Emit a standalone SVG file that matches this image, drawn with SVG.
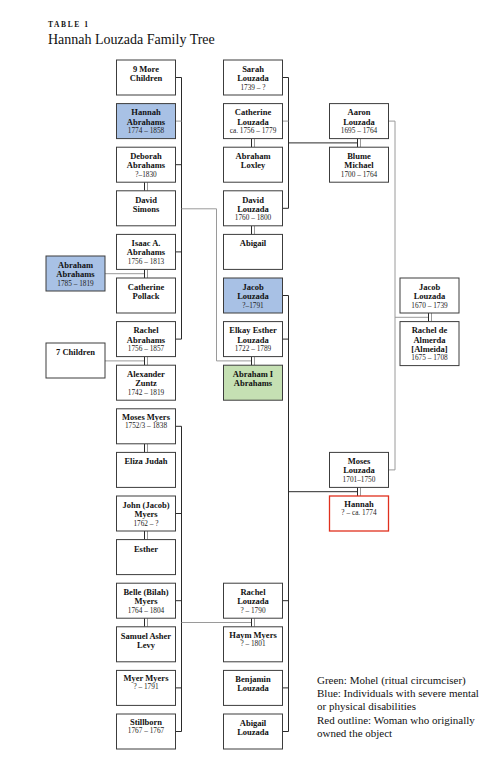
<svg xmlns="http://www.w3.org/2000/svg" width="501" height="777" viewBox="0 0 501 777">
<style>
.box{fill:#fff;stroke:#3c3c3c;stroke-width:1}
.blue{fill:#a8c1e5}
.green{fill:#c5e0b3}
.red{stroke:#e0301e;stroke-width:1.3}
text{font-family:"Liberation Serif","Times New Roman",serif;fill:#111}
.nm{font-size:8.5px;font-weight:bold;text-anchor:middle}
.dt{font-size:7.3px;text-anchor:middle;fill:#222}
.ln{stroke:#2a2a2a;stroke-width:1;fill:none}
.lg{stroke:#9a9a9a;stroke-width:1;fill:none}
.title{font-size:14px}
.tag{font-size:7.5px;font-weight:bold;letter-spacing:1.6px}
.leg{font-size:11px}
</style>
<rect width="501" height="777" fill="#fff"/>
<text class="tag" x="48" y="27">TABLE 1</text>
<text class="title" x="48" y="44">Hannah Louzada Family Tree</text>

<g id="connectors">
<path class="ln" d="M181.5,77.5V339.1M175.5,77.5H181.5M175.5,164.7H181.5M175.5,251.9H181.5M175.5,339.1H181.5"/>
<path class="lg" d="M175.5,121.1H181.5"/>
<path class="lg" d="M181.5,208.8H216.5V360.9H251.5"/>
<path class="ln" d="M288.5,77.5V208.3M282.5,77.5H288.5M282.5,208.3H288.5M288.5,142.9H357.5"/>
<path class="lg" d="M282.5,121.1H288.5"/>
<path class="lg" d="M388.5,121.1H395V469.9H388.5M395,317.3H428.5"/>
<path class="ln" d="M288.5,295.5V731.5M282.5,295.5H288.5M282.5,339.1H288.5M282.5,600.7H288.5M282.5,687.9H288.5M282.5,731.5H288.5M288.5,491.7H357.5"/>
<path class="ln" d="M181.5,426.3V731.5M175.5,426.3H181.5M175.5,513.5H181.5M175.5,600.7H181.5M175.5,687.9H181.5M175.5,731.5H181.5"/>
<path class="lg" d="M181.5,622.5H251.5"/>
<path class="lg" d="M105,273.7H144.5M105,360.9H144.5"/>
<path class="ln" d="M144.5,182.2V190.8M144.5,269.4V278M144.5,356.6V365.2M144.5,443.8V452.4M144.5,531V539.6M144.5,618.2V626.8"/>
<path class="lg" d="M147.5,182.2V190.8M147.5,269.4V278M147.5,356.6V365.2M147.5,443.8V452.4M147.5,531V539.6M147.5,618.2V626.8"/>
<path class="ln" d="M251.5,138.6V147.2M251.5,225.8V234.4M251.5,356.6V365.2M251.5,618.2V626.8"/>
<path class="lg" d="M254.5,138.6V147.2M254.5,225.8V234.4M254.5,356.6V365.2M254.5,618.2V626.8"/>
<path class="ln" d="M357.5,138.6V147.2M357.5,487.4V496M428.5,313V321.6"/>
<path class="lg" d="M360.5,138.6V147.2M360.5,487.4V496M431.5,313V321.6"/>
</g>

<g id="n-9-more-children"><rect class="box" x="116.5" y="60" width="59" height="35"/><text class="nm"><tspan x="146" y="71.7">9 More</tspan><tspan x="146" y="81">Children</tspan></text></g>
<g id="n-hannah-abrahams"><rect class="box blue" x="116.5" y="103.6" width="59" height="35"/><text class="nm"><tspan x="146" y="115.3">Hannah</tspan><tspan x="146" y="124.6">Abrahams</tspan></text><text class="dt" x="146" y="133.1">1774 – 1858</text></g>
<g id="n-deborah-abrahams"><rect class="box" x="116.5" y="147.2" width="59" height="35"/><text class="nm"><tspan x="146" y="158.9">Deborah</tspan><tspan x="146" y="168.2">Abrahams</tspan></text><text class="dt" x="146" y="176.7">?–1830</text></g>
<g id="n-david-simons"><rect class="box" x="116.5" y="190.8" width="59" height="35"/><text class="nm"><tspan x="146" y="202.5">David</tspan><tspan x="146" y="211.8">Simons</tspan></text></g>
<g id="n-isaac-abrahams"><rect class="box" x="116.5" y="234.4" width="59" height="35"/><text class="nm"><tspan x="146" y="246.1">Isaac A.</tspan><tspan x="146" y="255.4">Abrahams</tspan></text><text class="dt" x="146" y="263.9">1756 – 1813</text></g>
<g id="n-catherine-pollack"><rect class="box" x="116.5" y="278" width="59" height="35"/><text class="nm"><tspan x="146" y="289.7">Catherine</tspan><tspan x="146" y="299">Pollack</tspan></text></g>
<g id="n-rachel-abrahams"><rect class="box" x="116.5" y="321.6" width="59" height="35"/><text class="nm"><tspan x="146" y="333.3">Rachel</tspan><tspan x="146" y="342.6">Abrahams</tspan></text><text class="dt" x="146" y="351.1">1756 – 1857</text></g>
<g id="n-alexander-zuntz"><rect class="box" x="116.5" y="365.2" width="59" height="35"/><text class="nm"><tspan x="146" y="376.9">Alexander</tspan><tspan x="146" y="386.2">Zuntz</tspan></text><text class="dt" x="146" y="394.7">1742 – 1819</text></g>
<g id="n-moses-myers"><rect class="box" x="116.5" y="408.8" width="59" height="35"/><text class="nm" x="146" y="419.8">Moses Myers</text><text class="dt" x="146" y="427.6">1752/3 – 1838</text></g>
<g id="n-eliza-judah"><rect class="box" x="116.5" y="452.4" width="59" height="35"/><text class="nm" x="146" y="464.4">Eliza Judah</text></g>
<g id="n-john-myers"><rect class="box" x="116.5" y="496" width="59" height="35"/><text class="nm"><tspan x="146" y="507.7">John (Jacob)</tspan><tspan x="146" y="517">Myers</tspan></text><text class="dt" x="146" y="525.5">1762 – ?</text></g>
<g id="n-esther"><rect class="box" x="116.5" y="539.6" width="59" height="35"/><text class="nm" x="146" y="551.6">Esther</text></g>
<g id="n-belle-myers"><rect class="box" x="116.5" y="583.2" width="59" height="35"/><text class="nm"><tspan x="146" y="594.9">Belle (Bilah)</tspan><tspan x="146" y="604.2">Myers</tspan></text><text class="dt" x="146" y="612.7">1764 – 1804</text></g>
<g id="n-samuel-asher-levy"><rect class="box" x="116.5" y="626.8" width="59" height="35"/><text class="nm"><tspan x="146" y="638.5">Samuel Asher</tspan><tspan x="146" y="647.8">Levy</tspan></text></g>
<g id="n-myer-myers"><rect class="box" x="116.5" y="670.4" width="59" height="35"/><text class="nm" x="146" y="681.4">Myer Myers</text><text class="dt" x="146" y="689.2">? – 1791</text></g>
<g id="n-stillborn"><rect class="box" x="116.5" y="714" width="59" height="35"/><text class="nm" x="146" y="725">Stillborn</text><text class="dt" x="146" y="732.8">1767 – 1767</text></g>

<g id="n-sarah-louzada"><rect class="box" x="223.5" y="60" width="59" height="35"/><text class="nm"><tspan x="253" y="71.7">Sarah</tspan><tspan x="253" y="81">Louzada</tspan></text><text class="dt" x="253" y="89.5">1739 – ?</text></g>
<g id="n-catherine-louzada"><rect class="box" x="223.5" y="103.6" width="59" height="35"/><text class="nm"><tspan x="253" y="115.3">Catherine</tspan><tspan x="253" y="124.6">Louzada</tspan></text><text class="dt" x="253" y="133.1">ca. 1756 – 1779</text></g>
<g id="n-abraham-loxley"><rect class="box" x="223.5" y="147.2" width="59" height="35"/><text class="nm"><tspan x="253" y="158.9">Abraham</tspan><tspan x="253" y="168.2">Loxley</tspan></text></g>
<g id="n-david-louzada"><rect class="box" x="223.5" y="190.8" width="59" height="35"/><text class="nm"><tspan x="253" y="202.5">David</tspan><tspan x="253" y="211.8">Louzada</tspan></text><text class="dt" x="253" y="220.3">1760 – 1800</text></g>
<g id="n-abigail"><rect class="box" x="223.5" y="234.4" width="59" height="35"/><text class="nm" x="253" y="246.4">Abigail</text></g>
<g id="n-jacob-louzada-1791"><rect class="box blue" x="223.5" y="278" width="59" height="35"/><text class="nm"><tspan x="253" y="289.7">Jacob</tspan><tspan x="253" y="299">Louzada</tspan></text><text class="dt" x="253" y="307.5">?–1791</text></g>
<g id="n-elkay-esther-louzada"><rect class="box" x="223.5" y="321.6" width="59" height="35"/><text class="nm"><tspan x="253" y="333.3">Elkay Esther</tspan><tspan x="253" y="342.6">Louzada</tspan></text><text class="dt" x="253" y="351.1">1722 – 1789</text></g>
<g id="n-abraham-i-abrahams"><rect class="box green" x="223.5" y="365.2" width="59" height="35"/><text class="nm"><tspan x="253" y="376.9">Abraham I</tspan><tspan x="253" y="386.2">Abrahams</tspan></text></g>
<g id="n-rachel-louzada"><rect class="box" x="223.5" y="583.2" width="59" height="35"/><text class="nm"><tspan x="253" y="594.9">Rachel</tspan><tspan x="253" y="604.2">Louzada</tspan></text><text class="dt" x="253" y="612.7">? – 1790</text></g>
<g id="n-haym-myers"><rect class="box" x="223.5" y="626.8" width="59" height="35"/><text class="nm" x="253" y="637.8">Haym Myers</text><text class="dt" x="253" y="645.6">? – 1801</text></g>
<g id="n-benjamin-louzada"><rect class="box" x="223.5" y="670.4" width="59" height="35"/><text class="nm"><tspan x="253" y="682.1">Benjamin</tspan><tspan x="253" y="691.4">Louzada</tspan></text></g>
<g id="n-abigail-louzada"><rect class="box" x="223.5" y="714" width="59" height="35"/><text class="nm"><tspan x="253" y="725.7">Abigail</tspan><tspan x="253" y="735">Louzada</tspan></text></g>

<g id="n-aaron-louzada"><rect class="box" x="329.5" y="103.6" width="59" height="35"/><text class="nm"><tspan x="359" y="115.3">Aaron</tspan><tspan x="359" y="124.6">Louzada</tspan></text><text class="dt" x="359" y="133.1">1695 – 1764</text></g>
<g id="n-blume-michael"><rect class="box" x="329.5" y="147.2" width="59" height="35"/><text class="nm"><tspan x="359" y="158.9">Blume</tspan><tspan x="359" y="168.2">Michael</tspan></text><text class="dt" x="359" y="176.7">1700 – 1764</text></g>
<g id="n-moses-louzada"><rect class="box" x="329.5" y="452.4" width="59" height="35"/><text class="nm"><tspan x="359" y="464.1">Moses</tspan><tspan x="359" y="473.4">Louzada</tspan></text><text class="dt" x="359" y="481.9">1701–1750</text></g>
<g id="n-hannah"><rect class="box red" x="329.5" y="496" width="59" height="35"/><text class="nm" x="359" y="507">Hannah</text><text class="dt" x="359" y="514.8">? – ca. 1774</text></g>

<g id="n-jacob-louzada-1670"><rect class="box" x="400" y="278" width="59" height="35"/><text class="nm"><tspan x="429.5" y="289.7">Jacob</tspan><tspan x="429.5" y="299">Louzada</tspan></text><text class="dt" x="429.5" y="307.5">1670 – 1739</text></g>
<g id="n-rachel-de-almerda"><rect class="box" x="400" y="321.6" width="59" height="44"/><text class="nm"><tspan x="429.5" y="333.3">Rachel de</tspan><tspan x="429.5" y="342.6">Almerda</tspan><tspan x="429.5" y="351.9">[Almeida]</tspan></text><text class="dt" x="429.5" y="360.4">1675 – 1708</text></g>

<g id="n-abraham-abrahams"><rect class="box blue" x="46" y="256" width="59" height="35"/><text class="nm"><tspan x="75.5" y="267.7">Abraham</tspan><tspan x="75.5" y="277">Abrahams</tspan></text><text class="dt" x="75.5" y="285.5">1785 – 1819</text></g>
<g id="n-7-children"><rect class="box" x="46" y="343" width="59" height="35"/><text class="nm" x="75.5" y="355">7 Children</text></g>

<g id="legend">
<text class="leg" x="317" y="684">Green: Mohel (ritual circumciser)</text>
<text class="leg" x="317" y="697">Blue: Individuals with severe mental</text>
<text class="leg" x="317" y="710">or physical disabilities</text>
<text class="leg" x="317" y="723.5">Red outline: Woman who originally</text>
<text class="leg" x="317" y="736.5">owned the object</text>
</g>
</svg>
